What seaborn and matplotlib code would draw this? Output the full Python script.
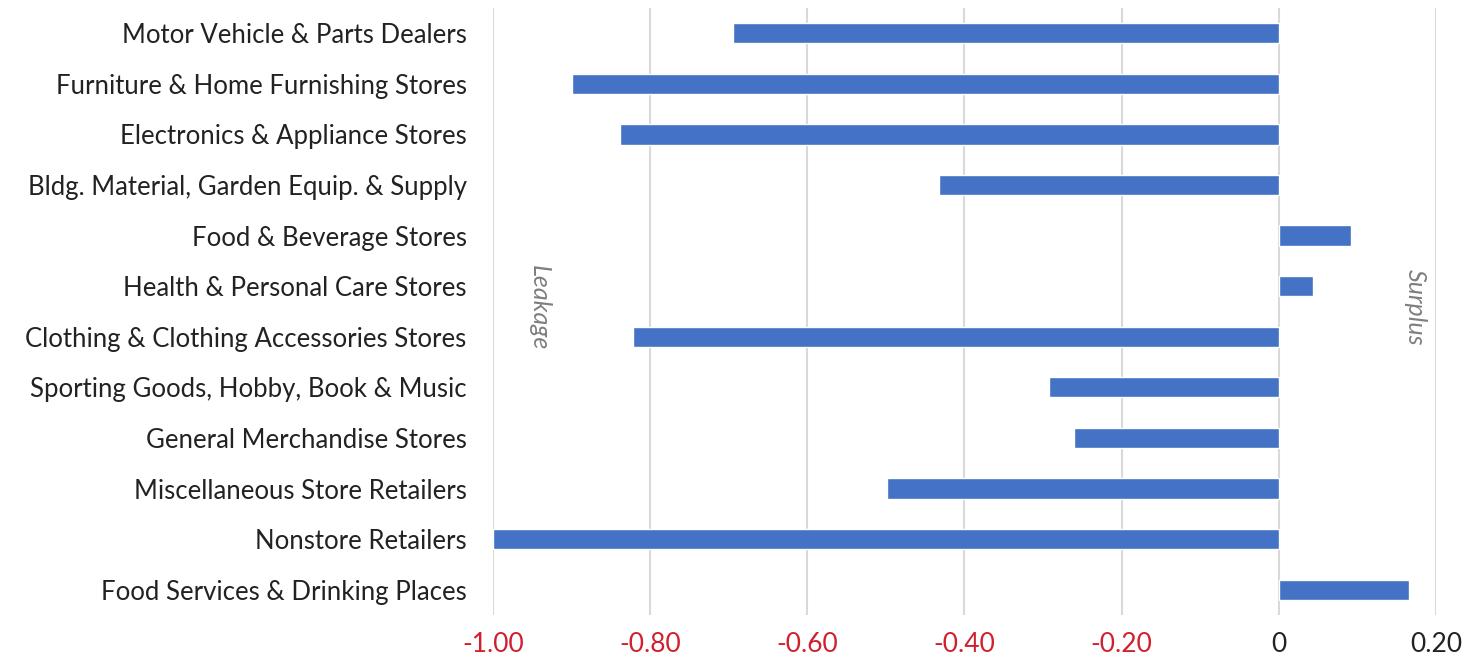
import matplotlib
matplotlib.use("Agg")
import matplotlib.pyplot as plt
import seaborn as sns
import pandas as pd

categories = [
    "Motor Vehicle & Parts Dealers",
    "Furniture & Home Furnishing Stores",
    "Electronics & Appliance Stores",
    "Bldg. Material, Garden Equip. & Supply",
    "Food & Beverage Stores",
    "Health & Personal Care Stores",
    "Clothing & Clothing Accessories Stores",
    "Sporting Goods, Hobby, Book & Music",
    "General Merchandise Stores",
    "Miscellaneous Store Retailers",
    "Nonstore Retailers",
    "Food Services & Drinking Places",
]
values = [-0.695, -0.899, -0.839, -0.433, 0.092, 0.043, -0.822, -0.292, -0.261, -0.498, -1.0, 0.166]
x_ticks = [-1.0, -0.8, -0.6, -0.4, -0.2, 0.0, 0.2]
x_tick_labels = ["-1.00", "-0.80", "-0.60", "-0.40", "-0.20", "0", "0.20"]

sns.set_style("white")
plt.rcParams["font.family"] = ["Lato", "DejaVu Sans"]

df = pd.DataFrame({"category": categories, "value": values})

fig = plt.figure(figsize=(14.77, 6.62), dpi=100)
ax = fig.add_axes([0.3338, 0.071, 0.9722 - 0.3338, 0.917])

sns.barplot(data=df, x="value", y="category", orient="h", color="#4472C4",
            width=0.4, saturation=1, ax=ax, zorder=3)

ax.set_xlim(-1.0, 0.2)
ax.set_ylim(len(categories) - 0.5, -0.5)
ax.set_xticks(x_ticks)
ax.set_xticklabels(x_tick_labels)
for lbl, v in zip(ax.get_xticklabels(), x_ticks):
    lbl.set_color("#D0202E" if v < 0 else "#222222")
    lbl.set_fontsize(19)

ax.tick_params(axis="x", length=0, pad=12)
ax.tick_params(axis="y", length=0, pad=19, labelsize=18.5, labelcolor="#222222")
ax.grid(axis="x", color="#D9D9D9", linewidth=1.5, zorder=0)
ax.set_axisbelow(True)
for s in ax.spines.values():
    s.set_visible(False)
ax.set_xlabel("")
ax.set_ylabel("")

ax.text(-0.941, 5.42, "Leakage", rotation=-90, ha="center", va="center",
        fontsize=18, style="italic", color="#7F7F7F")
ax.text(0.174, 5.42, "Surplus", rotation=-90, ha="center", va="center",
        fontsize=18, style="italic", color="#7F7F7F")

fig.savefig("out.png", dpi=100)
